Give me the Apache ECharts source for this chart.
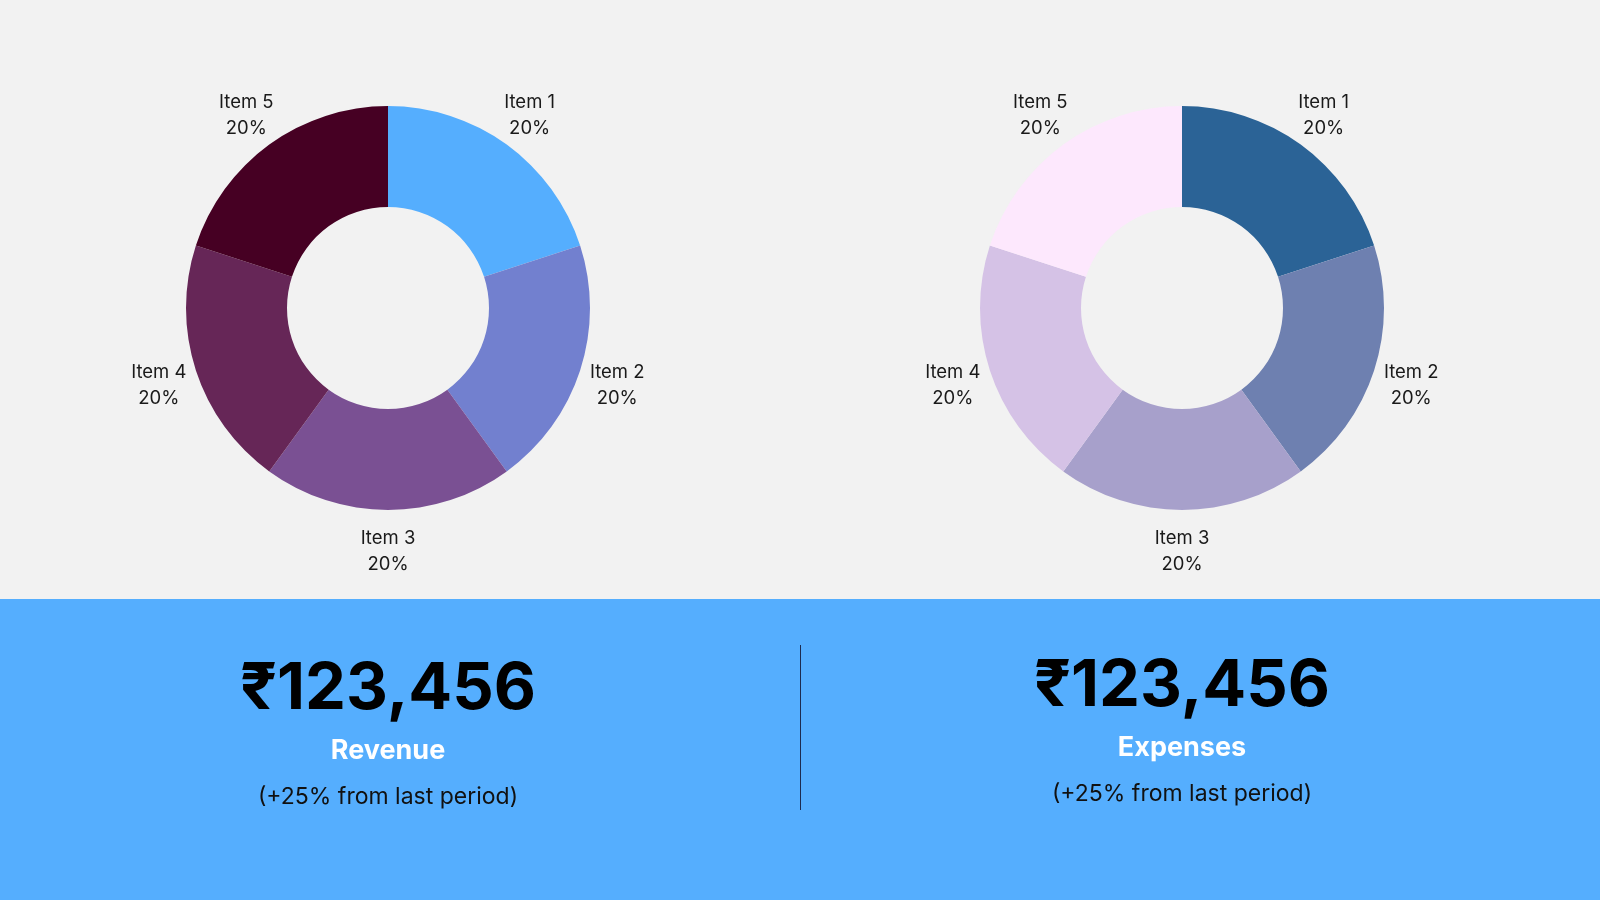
<!DOCTYPE html>
<html>
<head>
<meta charset="utf-8">
<title>Revenue / Expenses</title>
<script src="https://cdn.jsdelivr.net/npm/echarts@6/dist/echarts.min.js"></script>
<style>
  html, body { margin: 0; padding: 0; background: #f2f2f2; }
  #main { width: 1600px; height: 900px; }
</style>
</head>
<body>
<div id="main"></div>
<script>
// data
const itemNames = ['Item 1', 'Item 2', 'Item 3', 'Item 4', 'Item 5'];
const revenueShares = [20, 20, 20, 20, 20];
const expenseShares = [20, 20, 20, 20, 20];
const revenueColors = ['#55aefe', '#7280cf', '#7a5093', '#662657', '#460023'];
const expenseColors = ['#2b6396', '#6e80b0', '#a7a0cb', '#d5c2e6', '#fde8fd'];
const kpiValues = ['₹123,456', '₹123,456'];
const kpiNames = ['Revenue', 'Expenses'];
const kpiChanges = ['(+25% from last period)', '(+25% from last period)'];

const FONT = 'Inter, "Noto Sans", sans-serif';
const LABEL_GAP = 39; // distance of label centre beyond outer radius
const LABEL_SHIFT = 2.5; // labels sit a touch lower than the radial point

let myChart = echarts.init(document.getElementById('main'), null, { renderer: 'canvas' });

function makeData(values, colors) {
	return values.map(function (v, i) {
		return { name: itemNames[i], value: v, itemStyle: { color: colors[i] } };
	});
}

// put the label centred on the radial line, LABEL_GAP px beyond the ring
function centreLabel(params) {
	const p = params.labelLinePoints;
	if (!p || p.length < 2) return {};
	let dx = p[1][0] - p[0][0];
	let dy = p[1][1] - p[0][1];
	const len = Math.sqrt(dx * dx + dy * dy) || 1;
	dx /= len; dy /= len;
	return {
		x: p[0][0] + dx * LABEL_GAP,
		y: p[0][1] + dy * LABEL_GAP + LABEL_SHIFT,
		align: 'center',
		verticalAlign: 'middle'
	};
}

function donut(name, center, values, colors) {
	return {
		name: name,
		type: 'pie',
		center: center,
		radius: [101, 202],
		startAngle: 90,
		clockwise: true,
		avoidLabelOverlap: false,
		silent: true,
		animation: false,
		label: {
			show: true,
			position: 'outside',
			formatter: '{b}\n{d}%',
			color: '#1a1a1a',
			fontFamily: FONT,
			fontSize: 18.5,
			lineHeight: 26
		},
		labelLine: {
			show: true,
			length: LABEL_GAP,
			length2: 0,
			lineStyle: { opacity: 0 }
		},
		labelLayout: centreLabel,
		itemStyle: { borderWidth: 0 },
		emphasis: { disabled: true },
		data: makeData(values, colors)
	};
}

function kpiText(x, y, text, size, weight, color) {
	return {
		type: 'text',
		x: x,
		y: y,
		silent: true,
		style: {
			text: text,
			fill: color,
			font: weight + ' ' + size + 'px ' + FONT,
			align: 'center',
			verticalAlign: 'middle'
		}
	};
}

let option = {
	backgroundColor: '#f2f2f2',
	animation: false,
	series: [
		donut('Revenue', [388, 308], revenueShares, revenueColors),
		donut('Expenses', [1182, 308], expenseShares, expenseColors)
	],
	graphic: [
		{
			type: 'rect',
			silent: true,
			z: -1,
			shape: { x: 0, y: 599, width: 1600, height: 301 },
			style: { fill: '#55aefe' }
		},
		{
			type: 'line',
			silent: true,
			shape: { x1: 800.5, y1: 645, x2: 800.5, y2: 810 },
			style: { stroke: '#1d2b4f', lineWidth: 1 }
		},
		kpiText(388, 689, kpiValues[0], 65, 700, '#000000'),
		kpiText(388, 751, kpiNames[0], 27, 700, '#ffffff'),
		kpiText(388, 797, kpiChanges[0], 23, 400, '#111111'),
		kpiText(1182, 686, kpiValues[1], 65, 700, '#000000'),
		kpiText(1182, 748, kpiNames[1], 27, 700, '#ffffff'),
		kpiText(1182, 794, kpiChanges[1], 23, 400, '#111111')
	]
};

myChart.setOption(option);
</script>
</body>
</html>
